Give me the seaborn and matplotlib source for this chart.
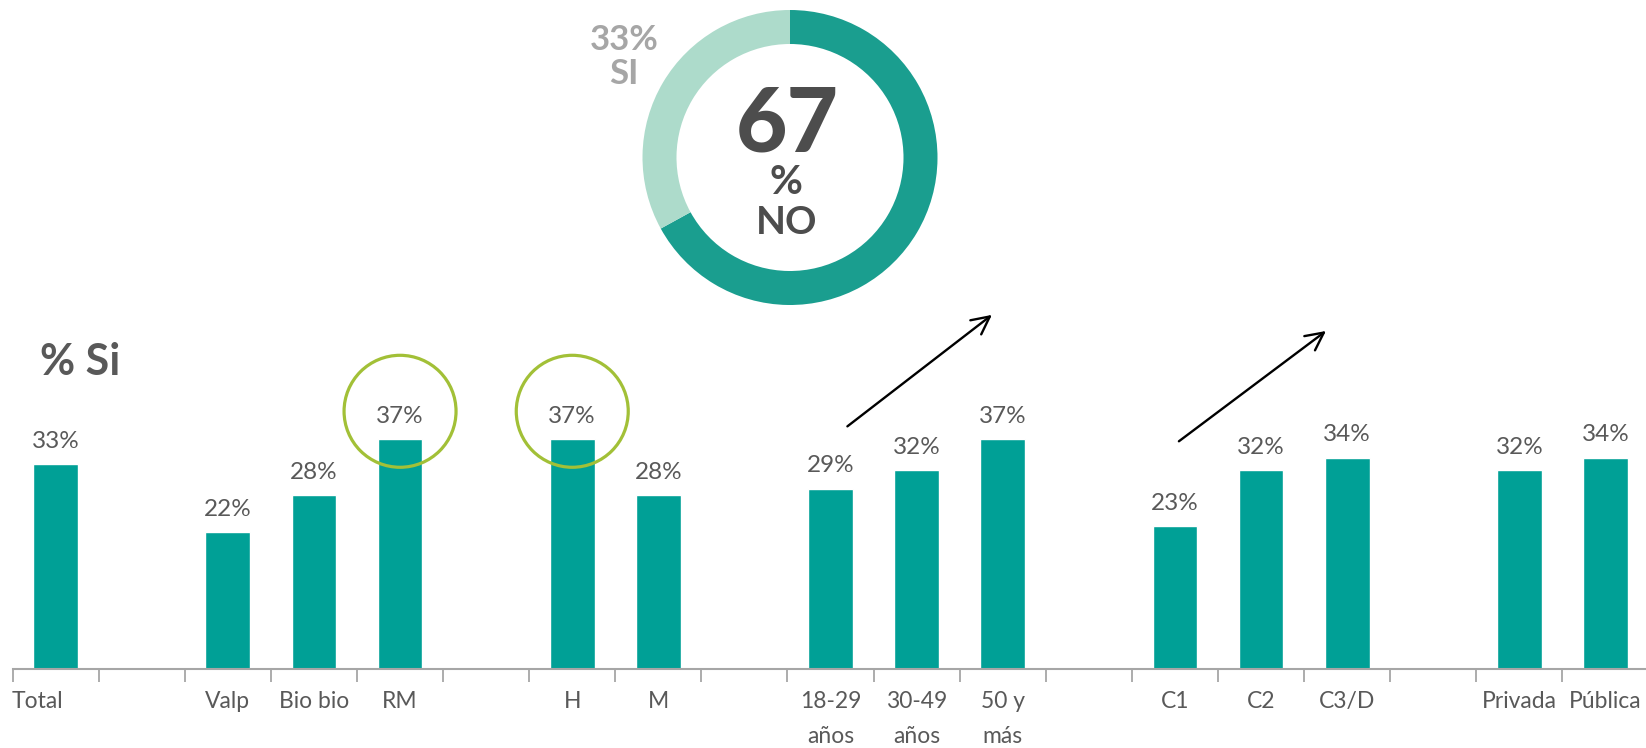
import pandas as pd
import matplotlib.pyplot as plt
import matplotlib.transforms as mtransforms
import seaborn as sns

# datos
categorias = ['Total', '', 'Valp', 'Bio bio', 'RM', ' ', 'H', 'M', '  ',
              '18-29\naños', '30-49\naños', '50 y\nmás', '   ',
              'C1', 'C2', 'C3/D', '    ', 'Privada', 'Pública']
valores = [33, None, 22, 28, 37, None, 37, 28, None,
           29, 32, 37, None, 23, 32, 34, None, 32, 34]
etiquetas = ['33%', '', '22%', '28%', '37%', '', '37%', '28%', '',
             '29%', '32%', '37%', '', '23%', '32%', '34%', '', '32%', '34%']
destacados = ['RM', 'H']
dona_valores = [67, 33]  # NO, SI

sns.set_theme(style='white')
plt.rcParams['font.family'] = ['Lato', 'DejaVu Sans']

TEAL = '#00A096'
GRIS = '#595959'

df = pd.DataFrame({'cat': categorias, 'valor': valores})

fig = plt.figure(figsize=(16.46, 7.48), dpi=100)
ax = fig.add_axes([12.6 / 1646, 1 - 669 / 748, 19 * 86.1 / 1646, 669 / 748])

sns.barplot(data=df, x='cat', y='valor', color=TEAL, width=0.52,
            saturation=1, ax=ax, order=categorias)

ax.set_ylim(0, 669 / 6.21)
ax.set_xlim(-0.5, len(categorias) - 0.5)
for s in ['top', 'right', 'left']:
    ax.spines[s].set_visible(False)
ax.spines['bottom'].set_color('#A6A6A6')
ax.spines['bottom'].set_linewidth(1.5)
ax.set_xlabel('')
ax.set_ylabel('')
ax.set_yticks([])

# ticks en los límites, etiquetas al centro
ax.set_xticks([i - 0.5 for i in range(len(categorias) + 1)])
ax.set_xticklabels([])
ax.tick_params(axis='x', which='major', length=9, width=1.3, color='#A6A6A6',
               direction='out', bottom=True)
ax.set_xticks(range(len(categorias)), minor=True)
ax.set_xticklabels(categorias, minor=True, fontsize=16.5, color=GRIS,
                   linespacing=1.8, va='top')
ax.tick_params(axis='x', which='minor', length=0, pad=16)
# "Total" va corrido a la izquierda como en el original
lbl0 = ax.get_xticklabels(minor=True)[0]
lbl0.set_transform(lbl0.get_transform() +
                   mtransforms.ScaledTranslation(-0.18, 0, fig.dpi_scale_trans))

for i, (v, t) in enumerate(zip(valores, etiquetas)):
    if v is not None:
        ax.annotate(t, (i, v), xytext=(0, 9), textcoords='offset points',
                    ha='center', va='bottom', fontsize=17.5, color=GRIS)

# círculos destacados
for c in destacados:
    i = categorias.index(c)
    ax.scatter([i], [41.5], s=6500, facecolors='none', edgecolors='#A2C037',
               linewidths=2.3, zorder=5, clip_on=False)

# flechas
for (xa, ya), (xb, yb) in [((9.17, 38.8), (10.90, 57.3)),
                           ((13.02, 36.4), (14.78, 54.7))]:
    ax.annotate('', xy=(xb, yb), xytext=(xa, ya),
                arrowprops=dict(arrowstyle='->', color='black', lw=1.7,
                                mutation_scale=32), annotation_clip=False)

fig.text(40 / 1646, 1 - 362 / 748, '% Si', fontsize=31, fontweight='bold',
         color=GRIS, ha='left', va='center')

# dona
cx, cy, r = 790, 157.5, 147.5
x0, x1, y0, y1 = 600, 938, 0, 330
axd = fig.add_axes([x0 / 1646, 1 - y1 / 748, (x1 - x0) / 1646, (y1 - y0) / 748])
wedges, _ = axd.pie(dona_valores, colors=['#1A9E8F', '#ADDBCB'], startangle=90,
                    counterclock=False, radius=1,
                    wedgeprops=dict(width=34 / r, linewidth=0))
for w in wedges:
    w.set_clip_on(True)
    w.set_clip_path(axd.patch)
axd.set_aspect('auto')
axd.set_xlim((x0 - cx) / r, (x1 - cx) / r)
axd.set_ylim((cy - y1) / r, (cy - y0) / r)
axd.axis('off')

def px(x, y):
    return (x - cx) / r, (cy - y) / r

axd.text(*px(787, 152), '67', fontsize=64, fontweight='black', color='#4D4D4D',
         ha='center', va='baseline')
axd.text(*px(786, 183), '%', fontsize=29, fontweight='bold', color='#4D4D4D',
         ha='center', va='center')
axd.text(*px(787, 222), 'NO', fontsize=28, fontweight='bold', color='#4D4D4D',
         ha='center', va='center')
axd.text(*px(624, 57), '33%\nSI', fontsize=25, fontweight='bold', color='#A6A6A6',
         ha='center', va='center', linespacing=1.05)

fig.savefig('out.png', dpi=100, facecolor='white')
